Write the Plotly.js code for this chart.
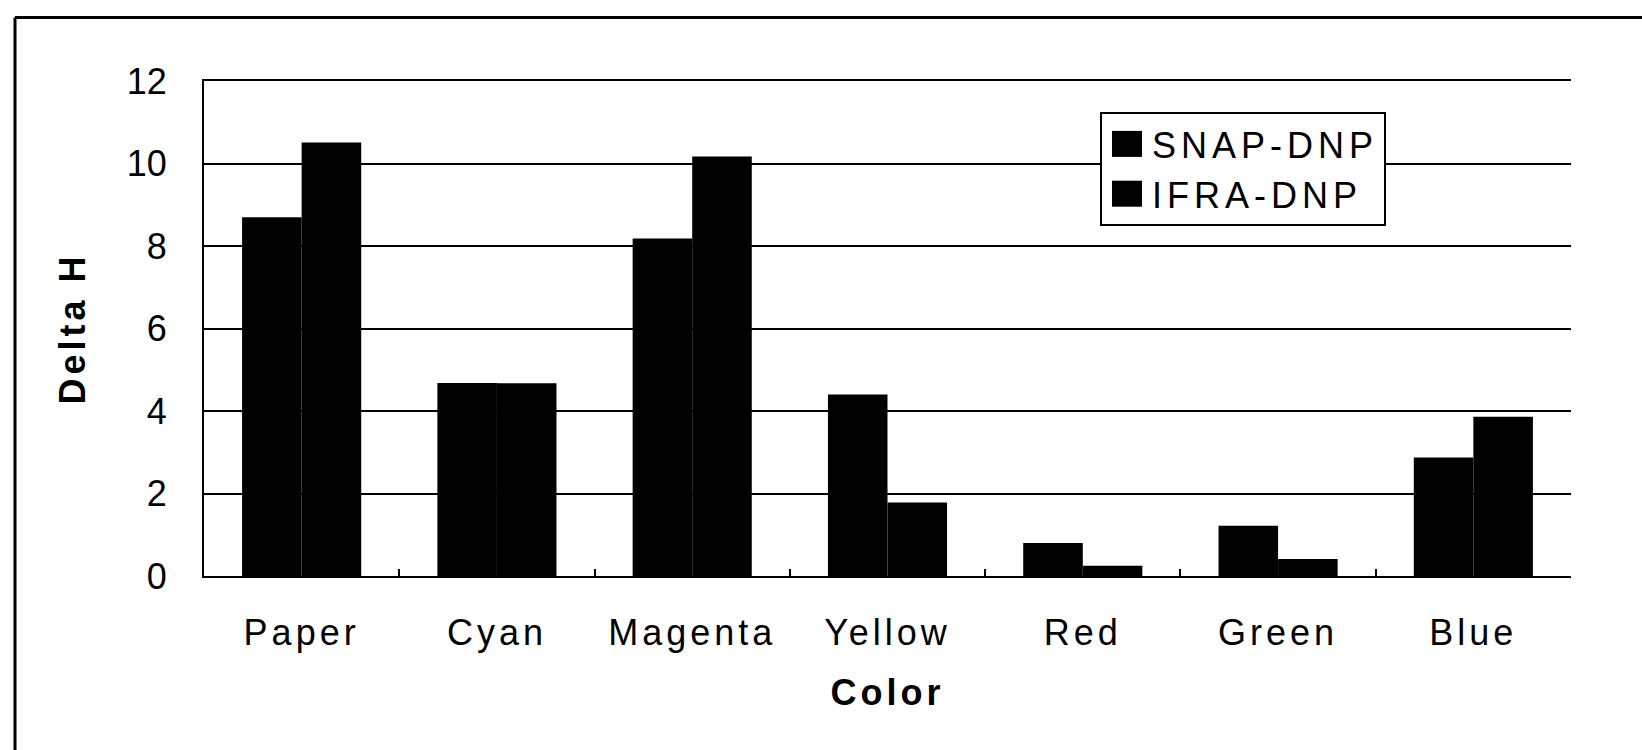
<!DOCTYPE html>
<html>
<head>
<meta charset="utf-8">
<script src="https://cdn.plot.ly/plotly-3.0.1.min.js"></script>
<style>
  html, body { margin: 0; padding: 0; background: #fff; overflow: hidden; }
  #wrap { position: relative; width: 1642px; height: 750px; overflow: hidden; }
  #chart { width: 1642px; height: 750px; }
  .xtick text, .g-xtitle text, .g-ytitle text { letter-spacing: 4px; }
  .legendtext { letter-spacing: 5px; }
</style>
</head>
<body>
<div id="wrap">
  <div id="chart"></div>
</div>
<script>
// ---- data ----
const categories = ["Paper", "Cyan", "Magenta", "Yellow", "Red", "Green", "Blue"];
const snapDNP = [8.70, 4.68, 8.18, 4.40, 0.80, 1.22, 2.87];
const ifraDNP = [10.51, 4.67, 10.17, 1.78, 0.25, 0.41, 3.86];
const seriesNames = ["SNAP-DNP", "IFRA-DNP"];
const yTicks = [0, 2, 4, 6, 8, 10, 12];

const FONT = "Liberation Sans, Arial, Helvetica, sans-serif";

const traces = [
  { type: "bar", name: seriesNames[0], x: categories, y: snapDNP,
    marker: { color: "#000000", line: { width: 0 } } },
  { type: "bar", name: seriesNames[1], x: categories, y: ifraDNP,
    marker: { color: "#000000", line: { width: 0 } } }
];

// plot area in pixels: x 204..1571, y 81..576
const L = 204, R = 1642 - 1571, T = 81, B = 750 - 576;
const PW = 1642 - L - R, PH = 750 - T - B;
const px = v => (v - L) / PW;
const py = v => (750 - B - v) / PH;

const layout = {
  width: 1642, height: 750,
  margin: { l: L, r: R, t: T, b: B, pad: 0 },
  paper_bgcolor: "#ffffff", plot_bgcolor: "#ffffff",
  font: { family: FONT, size: 36, color: "#000000" },
  barmode: "group",
  bargap: 0.39,
  bargroupgap: 0,
  showlegend: true,
  legend: {
    x: px(1100), y: py(112), xanchor: "left", yanchor: "top",
    bgcolor: "#ffffff", bordercolor: "#000000", borderwidth: 2,
    itemwidth: 40,
    font: { family: FONT, size: 36, color: "#000000" },
    itemclick: false, itemdoubleclick: false
  },
  xaxis: {
    type: "category",
    showline: true, linecolor: "#000000", linewidth: 2, mirror: true,
    ticks: "inside", tickson: "boundaries", ticklen: 7, tickwidth: 2, tickcolor: "#000000",
    showgrid: false, zeroline: false,
    tickfont: { family: FONT, size: 36, color: "#000000" },
    ticklabelstandoff: 24,
    title: { text: "Color", font: { family: FONT, size: 36, color: "#000000", weight: "bold" }, standoff: 28 }
  },
  yaxis: {
    range: [0, 12],
    tickvals: yTicks,
    ticktext: yTicks.map(String),
    showline: true, linecolor: "#000000", linewidth: 2, mirror: false,
    ticks: "", showgrid: true, gridcolor: "#000000", gridwidth: 2,
    zeroline: false,
    tickfont: { family: FONT, size: 36, color: "#000000" },
    ticklabelstandoff: 28,
    title: { text: "Delta H", font: { family: FONT, size: 36, color: "#000000", weight: "bold" }, standoff: 30 }
  },
  shapes: [
    { type: "line", xref: "paper", yref: "paper", x0: px(15), x1: px(1642), y0: py(17.5), y1: py(17.5),
      line: { color: "#000000", width: 3 } },
    { type: "line", xref: "paper", yref: "paper", x0: px(15), x1: px(15), y0: py(17.5), y1: py(750),
      line: { color: "#000000", width: 3 } }
  ]
};

Plotly.newPlot("chart", traces, layout, { staticPlot: true, displayModeBar: false }).then(gd => {
  // enlarge legend swatches to match the reference's big squares
  gd.querySelectorAll(".legendpoints path").forEach(p => {
    p.setAttribute("d", "M15,13H-15V-13H15Z");
  });
});
</script>
</body>
</html>
